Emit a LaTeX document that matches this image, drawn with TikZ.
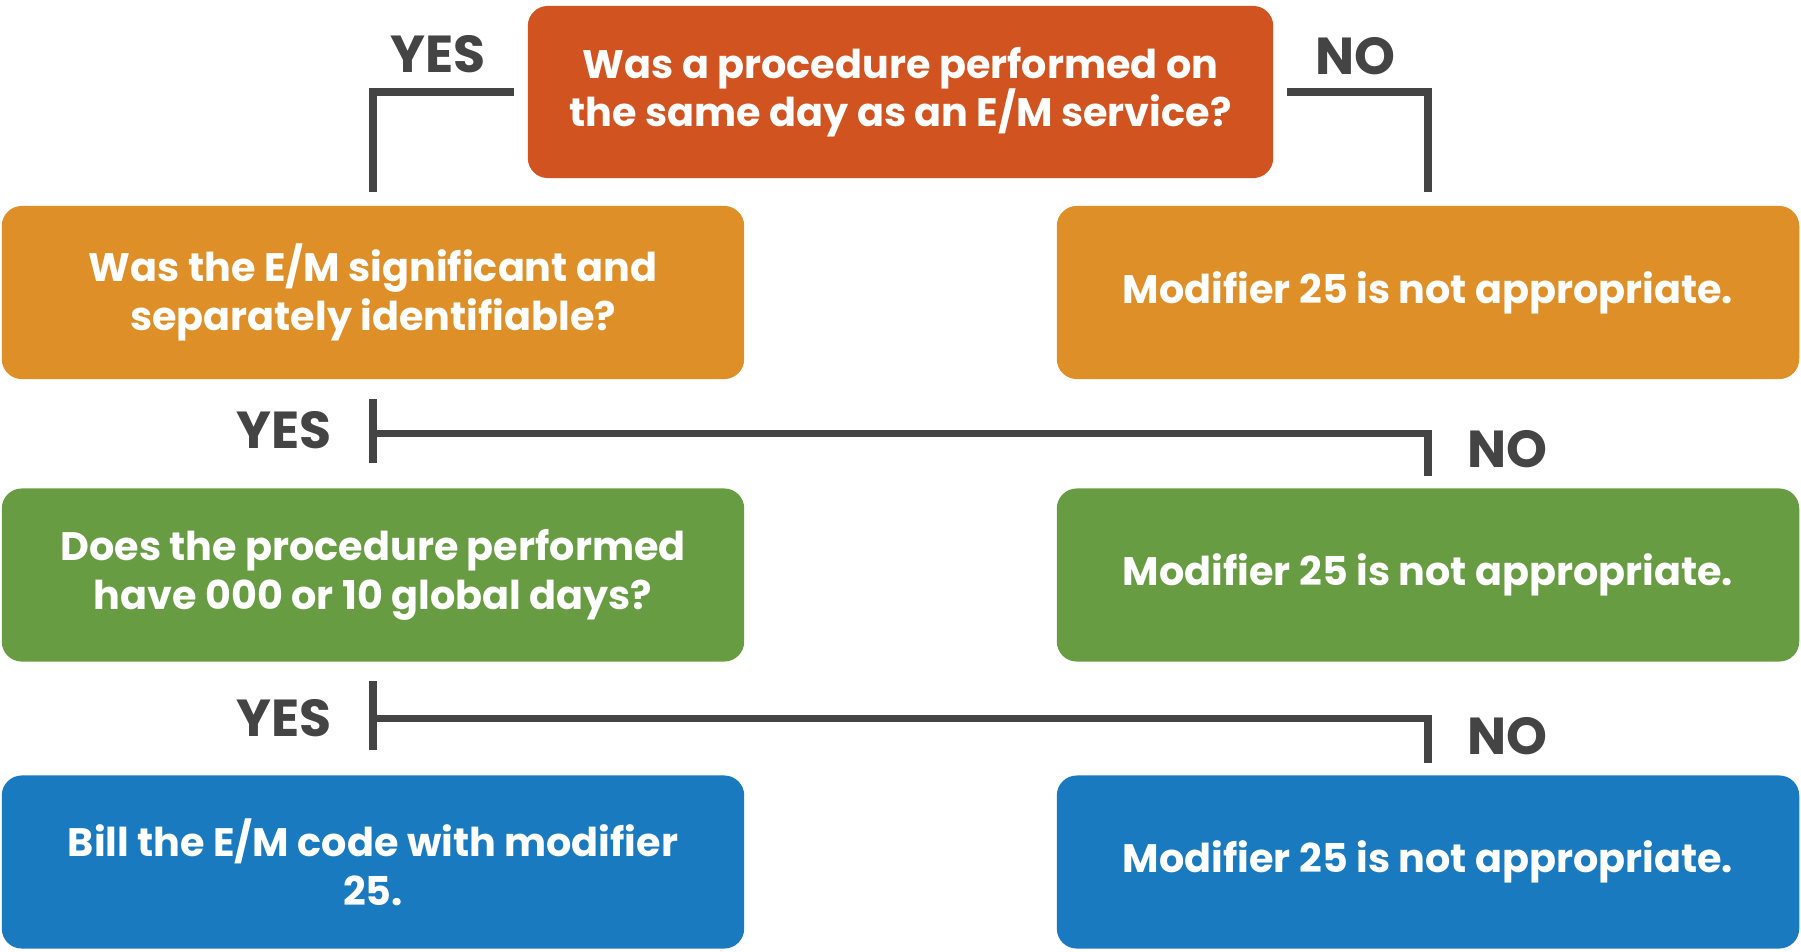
\documentclass[tikz,border=0pt]{standalone}
\usepackage{fontspec}
\setmainfont{Poppins}
\usetikzlibrary{calc,positioning}
\definecolor{qred}{RGB}{209,83,32}
\definecolor{qorange}{RGB}{222,143,40}
\definecolor{qgreen}{RGB}{103,156,66}
\definecolor{qblue}{RGB}{26,122,191}
\definecolor{linkgray}{RGB}{68,68,68}
\tikzset{
    qbox/.style = {rectangle, rounded corners=0.2cm, inner sep=0pt,
        text=white, align=center,
        font=\bfseries\fontsize{11.3}{13.8}\selectfont,
        minimum height=1.73cm,
        minimum width=7.42cm},
    ans/.style = {text=linkgray, font=\bfseries\fontsize{14.8}{17}\selectfont},
    link/.style = {draw=linkgray, line width=2.1pt}
}
\begin{document}
\begin{tikzpicture}[x=0.01cm, y=-0.01cm]
                \useasboundingbox (0,0) rectangle (1801,951);
                % questions on the left, answers on the right
                \node[qbox,fill=qred,minimum width=7.45cm,minimum height=1.72cm] (q1) at (900.5,92) {Was a procedure performed on\\the same day as an E/M service?};
                \node[qbox,fill=qorange] (q2) at (373,292.5) {Was the E/M significant and\\separately identifiable?};
                \node[qbox,fill=qorange] (n1) at (1428,292.5) {Modifier 25 is not appropriate.};
                \node[qbox,fill=qgreen] (q3) at (373,575) {Does the procedure performed\\have 000 or 10 global days?};
                \node[qbox,fill=qgreen] (n2) at (1428,575) {Modifier 25 is not appropriate.};
                \node[qbox,fill=qblue] (bill) at (373,862) {Bill the E/M code with modifier\\25.};
                \node[qbox,fill=qblue] (n3) at (1428,862) {Modifier 25 is not appropriate.};
                % yes / no labels
                \node[ans] (yes1) at (438,54) {YES};
                \node[ans] (no1) at (1355,56) {NO};
                \node[ans] (yes2) at (284,430) {YES};
                \node[ans] (no2) at (1507,449) {NO};
                \node[ans] (yes3) at (284,718) {YES};
                \node[ans] (no3) at (1507,736) {NO};
                % connectors
                \draw [link] ([xshift=-0.13cm]q1.west) -| ([yshift=0.13cm]q2.north);
                \draw [link] ([xshift=0.13cm]q1.east) -| ([yshift=0.13cm]n1.north);
                \draw [link] ([yshift=-0.19cm]q2.south) -- ([yshift=0.245cm]q3.north);
                \draw [link] ($(q2.south)!0.5!(q3.north)$) -| ([yshift=0.12cm]n2.north);
                \draw [link] ([yshift=-0.19cm]q3.south) -- ([yshift=0.245cm]bill.north);
                \draw [link] ($(q3.south)!0.5!(bill.north)$) -| ([yshift=0.12cm]n3.north);
            \end{tikzpicture}
\end{document}
